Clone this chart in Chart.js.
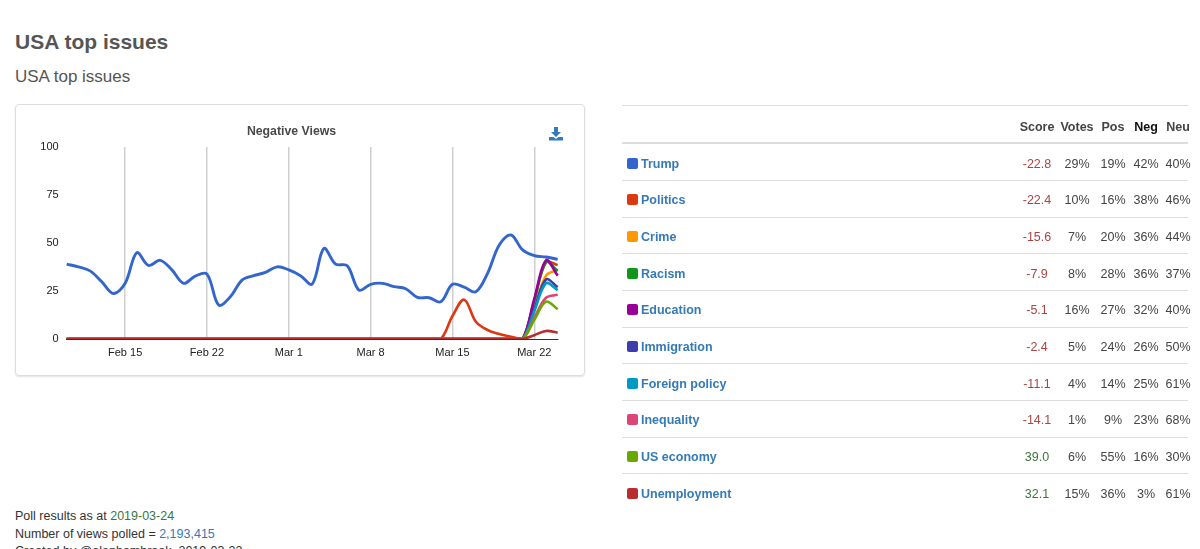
<!DOCTYPE html>
<html>
<head>
<meta charset="utf-8">
<script src="https://cdn.jsdelivr.net/npm/chart.js@4.4.0/dist/chart.umd.min.js"></script>
<style>
  body { margin: 0; background: #fff; font-family: "Liberation Sans", Arial, sans-serif; color: #333; width: 1200px; height: 549px; overflow: hidden; position: relative; }
  .abs { position: absolute; white-space: nowrap; }
  #h1 { left: 15px; top: 30px; font-size: 21px; line-height: 24px; font-weight: bold; color: #555; }
  #h2 { left: 15px; top: 67px; font-size: 17px; line-height: 20px; color: #555; }
  #card { left: 15px; top: 104px; width: 568px; height: 270px; border: 1px solid #ddd; border-radius: 4px; box-shadow: 0 1px 2px rgba(0,0,0,0.12); }
  #card canvas { position: absolute; left: 0; top: 0; }
  #dl { left: 549px; top: 127px; }
  .line { position: absolute; left: 622px; width: 566px; height: 1px; background: #ddd; }
  .cell { position: absolute; font-size: 12.5px; line-height: 16px; white-space: nowrap; }
  .hd { font-weight: bold; color: #337ab7; }
  .nm { font-weight: bold; color: #337ab7; left: 641px; }
  .sq { position: absolute; left: 627px; width: 11px; height: 11px; border-radius: 2px; }
  .num { width: 50px; text-align: center; color: #444; }
  .foot { left: 15px; font-size: 12.5px; line-height: 17.5px; color: #333; }
</style>
</head>
<body>
<div id="h1" class="abs">USA top issues</div>
<div id="h2" class="abs">USA top issues</div>

<div id="card" class="abs">
  <canvas id="chart" width="568" height="270"></canvas>
</div>
<svg id="dl" class="abs" width="14" height="14" viewBox="0 0 14 14">
  <path d="M5 0 H9 V5 H12 L7 10 L2 5 H5 Z" fill="#337ab7"/>
  <path d="M0 10 H4.5 L7 12 L9.5 10 H14 V13.5 H0 Z" fill="#337ab7"/>
</svg>

<div id="table"></div>

<div class="abs foot" style="top:508px">Poll results as at <span style="color:#3c763d">2019-03-24</span></div>
<div class="abs foot" style="top:525.5px">Number of views polled = <span style="color:#337ab7">2,193,415</span></div>
<div class="abs foot" style="top:543px">Created by @alanhambrook, 2019-03-22</div>

<script>
// x categories (one per day) and the ones that get a label + gridline
var days = ['Feb 10','Feb 11','Feb 12','Feb 13','Feb 14','Feb 15','Feb 16','Feb 17','Feb 18','Feb 19',
            'Feb 20','Feb 21','Feb 22','Feb 23','Feb 24','Feb 25','Feb 26','Feb 27','Feb 28',
            'Mar 1','Mar 2','Mar 3','Mar 4','Mar 5','Mar 6','Mar 7','Mar 8','Mar 9','Mar 10',
            'Mar 11','Mar 12','Mar 13','Mar 14','Mar 15','Mar 16','Mar 17','Mar 18','Mar 19','Mar 20',
            'Mar 21','Mar 22','Mar 23','Mar 24'];
var tickDays = ['Feb 15','Feb 22','Mar 1','Mar 8','Mar 15','Mar 22'];
var yTicks = [0, 25, 50, 75, 100];

var issues = ['Trump','Politics','Crime','Racism','Education','Immigration','Foreign policy','Inequality','US economy','Unemployment'];
var colors = ['#3366cc','#dc3912','#ff9900','#109618','#990099','#3b3eac','#0099c6','#dd4477','#66aa00','#b82e2e'];

// negative views per day
var trump = [39, 37.6, 35.5, 29.8, 23.7, 29, 45, 38.3, 41, 36,
             29, 32.8, 33.8, 17.7, 22, 30.7, 33, 34.7, 37.6,
             36, 33, 28.6, 47.2, 39, 38.2, 25.5, 28.5, 29, 27.3,
             26.2, 21.7, 21.5, 19.4, 28.5, 27, 24.6, 34.2, 49, 54.2,
             46.4, 43.4, 42.7, 41.5];
var politics = [0,0,0,0,0,0,0,0,0,0, 0,0,0,0,0,0,0,0,0,
                0,0,0,0,0,0,0,0,0,0, 0,0,0,0,12,20.5,9,4.7,2.6,1.2,
                0,20,40,38.5];
var crime = [0,0,0,0,0,0,0,0,0,0, 0,0,0,0,0,0,0,0,0,
             0,0,0,0,0,0,0,0,0,0, 0,0,0,0,0,0,0,0,0,0,
             0,16,33,36];
var racism = [0,0,0,0,0,0,0,0,0,0, 0,0,0,0,0,0,0,0,0,
              0,0,0,0,0,0,0,0,0,0, 0,0,0,0,0,0,0,0,0,0,
              0,20,40,35.5];
var education = [0,0,0,0,0,0,0,0,0,0, 0,0,0,0,0,0,0,0,0,
                 0,0,0,0,0,0,0,0,0,0, 0,0,0,0,0,0,0,0,0,0,
                 0,21,41,33];
var immigration = [0,0,0,0,0,0,0,0,0,0, 0,0,0,0,0,0,0,0,0,
                   0,0,0,0,0,0,0,0,0,0, 0,0,0,0,0,0,0,0,0,0,
                   0,15.5,31,27];
var foreignPolicy = [0,0,0,0,0,0,0,0,0,0, 0,0,0,0,0,0,0,0,0,
                     0,0,0,0,0,0,0,0,0,0, 0,0,0,0,0,0,0,0,0,0,
                     0,14.5,29,25.5];
var inequality = [0,0,0,0,0,0,0,0,0,0, 0,0,0,0,0,0,0,0,0,
                  0,0,0,0,0,0,0,0,0,0, 0,0,0,0,0,0,0,0,0,0,
                  0,11,21.5,23];
var usEconomy = [0,0,0,0,0,0,0,0,0,0, 0,0,0,0,0,0,0,0,0,
                 0,0,0,0,0,0,0,0,0,0, 0,0,0,0,0,0,0,0,0,0,
                 0,10,19.5,15.5];
var unemployment = [0,0,0,0,0,0,0,0,0,0, 0,0,0,0,0,0,0,0,0,
                    0,0,0,0,0,0,0,0,0,0, 0,0,0,0,0,0,0,0,0,0,
                    0,2,4.2,3.3];
var series = [trump, politics, crime, racism, education, immigration, foreignPolicy, inequality, usEconomy, unemployment];

// table columns
var scores = ['-22.8','-22.4','-15.6','-7.9','-5.1','-2.4','-11.1','-14.1','39.0','32.1'];
var votes = [29, 10, 7, 8, 16, 5, 4, 1, 6, 15];
var pos = [19, 16, 20, 28, 27, 24, 14, 9, 55, 36];
var neg = [42, 38, 36, 36, 32, 26, 25, 23, 16, 3];
var neu = [40, 46, 44, 37, 40, 50, 61, 68, 30, 61];

Chart.defaults.font.family = '"Liberation Sans", Arial, sans-serif';

var datasets = series.map(function(vals, i) {
    return {
        label: issues[i],
        data: vals,
        borderColor: colors[i],
        backgroundColor: colors[i],
        borderWidth: i == 0 ? 2.9 : 2.6,
        pointRadius: 0,
        tension: 0.35,
        fill: false,
        order: series.length - i   // later series drawn on top, like the original
    };
});

new Chart(document.getElementById('chart'), {
    type: 'line',
    data: { labels: days, datasets: datasets },
    options: {
        responsive: false,
        animation: false,
        layout: { padding: { left: 9.4, right: 26.3, top: 0, bottom: 0 } },
        plugins: {
            legend: { display: false },
            tooltip: { enabled: false },
            title: {
                display: true,
                text: 'Negative Views',
                color: '#4a4a4a',
                font: { size: 12.3, weight: 'bold' },
                padding: { top: 19, bottom: 8.3 }
            }
        },
        scales: {
            x: {
                grid: {
                    drawTicks: false,
                    color: function(ctx) { return tickDays.indexOf(days[ctx.index]) >= 0 ? '#cfcfcf' : 'rgba(0,0,0,0)'; },
                    lineWidth: 1.5
                },
                border: { display: true, color: '#333', width: 1 },
                ticks: {
                    autoSkip: false,
                    maxRotation: 0,
                    padding: 7,
                    color: '#222',
                    font: { size: 11 },
                    callback: function(v, i) { return tickDays.indexOf(days[i]) >= 0 ? days[i] : ''; }
                },
                afterFit: function(s) { s.height = 36; }
            },
            y: {
                min: 0,
                max: 100,
                grid: { display: false, drawTicks: false },
                border: { display: false },
                ticks: {
                    stepSize: 25,
                    padding: 8,
                    color: '#222',
                    font: { size: 11 },
                    callback: function(v) { return yTicks.indexOf(v) >= 0 ? v : ''; }
                },
                afterFit: function(s) { s.width = 41.3; }
            }
        }
    }
});

// the stats table on the right
var tbl = document.getElementById('table');
var rowH = 36.67;
function add(html, cls, style) {
    var d = document.createElement('div');
    d.className = cls;
    d.setAttribute('style', style);
    d.innerHTML = html;
    tbl.appendChild(d);
}
var colX = [1037, 1077, 1113, 1146, 1178];
var heads = ['Score', 'Votes', 'Pos', 'Neg', 'Neu'];

add('', 'line', 'top:105px');
add('', 'line', 'top:142px;height:2px');
heads.forEach(function(h, j) {
    add(h, 'cell hd num', 'top:' + (126.7 - 7.8) + 'px;left:' + (colX[j] - 25) + 'px;' + (h == 'Neg' ? 'color:#111' : ''));
});
issues.forEach(function(name, i) {
    var cy = 163.3 + i * rowH;
    if (i > 0) add('', 'line', 'top:' + (cy - 20.5 + 0.5).toFixed(1) + 'px');
    add('', 'sq', 'top:' + (cy - 5.5) + 'px;background:' + colors[i]);
    add(name, 'cell nm', 'top:' + (cy - 7.8) + 'px');
    var sc = parseFloat(scores[i]);
    var vals = [scores[i], votes[i] + '%', pos[i] + '%', neg[i] + '%', neu[i] + '%'];
    vals.forEach(function(v, j) {
        var st = 'top:' + (cy - 7.8) + 'px;left:' + (colX[j] - 25) + 'px;';
        if (j == 0) st += 'color:' + (sc < 0 ? '#a94442' : '#3c763d');
        add(v, 'cell num', st);
    });
});
</script>
</body>
</html>
